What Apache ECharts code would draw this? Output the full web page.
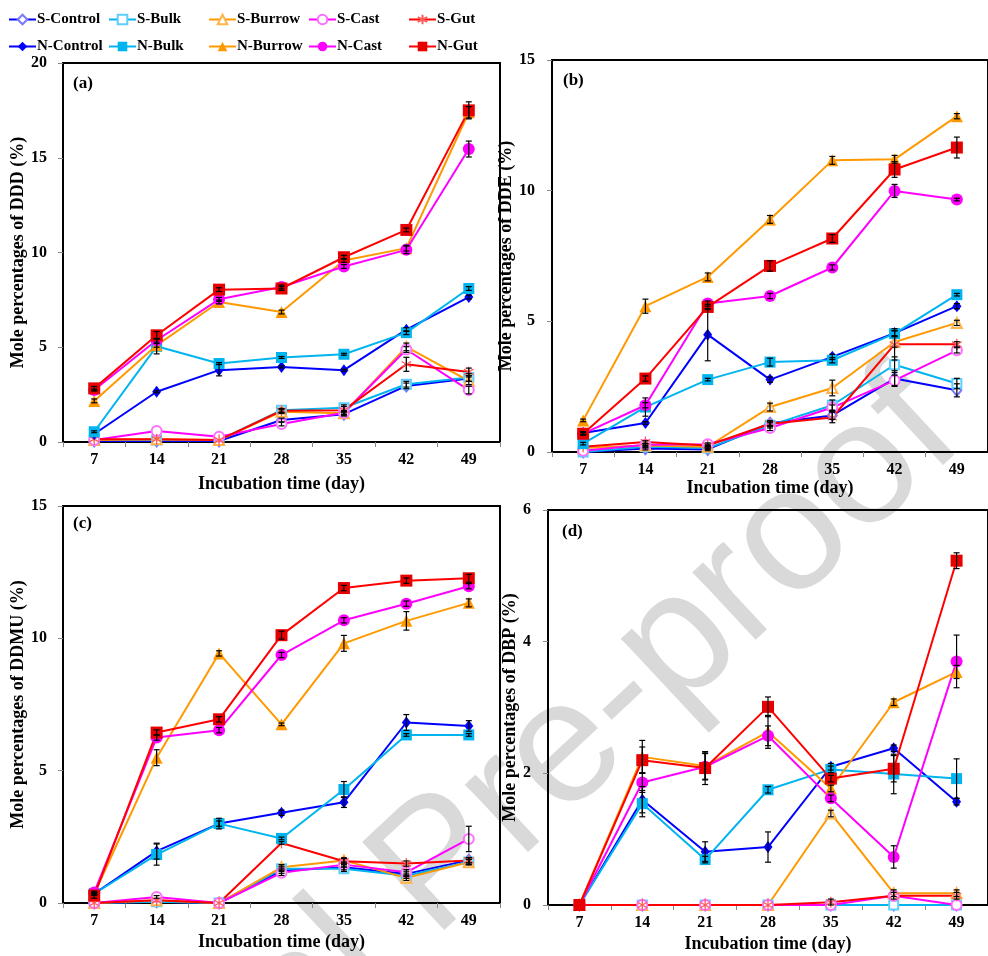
<!DOCTYPE html>
<html><head><meta charset="utf-8">
<script src="https://cdn.jsdelivr.net/npm/echarts@6/dist/echarts.min.js"></script>
<style>html,body{margin:0;padding:0;background:#fff}#chart{width:988px;height:956px}</style>
</head><body><div id="chart"></div>
<script>
// ---------- data ----------
const days = ['7', '14', '21', '28', '35', '42', '49'];
const seriesNames = ['S-Control', 'S-Bulk', 'S-Burrow', 'S-Cast', 'S-Gut',
                     'N-Control', 'N-Bulk', 'N-Burrow', 'N-Cast', 'N-Gut'];
const panelLetters = ['(a)', '(b)', '(c)', '(d)'];
const yAxisTitles = ['Mole percentages of DDD (%)', 'Mole percentages of DDE (%)',
                     'Mole percentages of DDMU (%)', 'Mole percentages of DBP (%)'];
const xAxisTitle = 'Incubation time (day)';
const yMaxes = [20, 15, 15, 6];
const ySteps = [5, 5, 5, 2];

// rows follow seriesNames order
const dddValues = [
  [0.05, 0.05, 0.05, 1.16, 1.47, 2.96, 3.35],
  [0.10, 0.10, 0.10, 1.68, 1.81, 3.05, 3.40],
  [0.10, 0.15, 0.10, 1.60, 1.52, 5.02, 3.23],
  [0.10, 0.58, 0.28, 0.95, 1.54, 4.88, 2.74],
  [0.15, 0.15, 0.10, 1.65, 1.68, 4.10, 3.70],
  [0.42, 2.65, 3.79, 3.96, 3.79, 5.93, 7.65],
  [0.54, 5.05, 4.14, 4.46, 4.63, 5.77, 8.10],
  [2.17, 5.10, 7.39, 6.86, 9.58, 10.23, 17.40],
  [2.74, 5.37, 7.53, 8.18, 9.26, 10.14, 15.46],
  [2.83, 5.63, 8.04, 8.10, 9.75, 11.19, 17.50]
];
const dddErrors = [
  [0, 0, 0, 0.10, 0.10, 0.15, 0.15],
  [0, 0, 0, 0.10, 0.15, 0.15, 0.20],
  [0, 0, 0, 0.10, 0.10, 0.20, 0.20],
  [0, 0, 0, 0.10, 0.10, 0.15, 0.20],
  [0, 0, 0, 0.10, 0.20, 0.37, 0.20],
  [0, 0.05, 0.30, 0.05, 0.05, 0.10, 0.10],
  [0.05, 0.40, 0.05, 0.05, 0.05, 0.10, 0.10],
  [0.10, 0.10, 0.10, 0.10, 0.10, 0.15, 0.30],
  [0.05, 0.10, 0.10, 0.10, 0.10, 0.20, 0.42],
  [0.10, 0.20, 0.10, 0.10, 0.10, 0.10, 0.45]
];
const ddeValues = [
  [0.00, 0.13, 0.10, 1.10, 1.40, 2.81, 2.36],
  [0.00, 0.20, 0.15, 1.02, 1.79, 3.34, 2.62],
  [0.15, 0.25, 0.20, 1.72, 2.45, 4.21, 4.94],
  [0.05, 0.28, 0.30, 0.92, 1.70, 2.74, 3.89],
  [0.20, 0.38, 0.25, 1.08, 1.32, 4.12, 4.12],
  [0.73, 1.11, 4.49, 2.77, 3.64, 4.55, 5.58],
  [0.32, 1.72, 2.77, 3.44, 3.51, 4.53, 6.02],
  [1.21, 5.58, 6.70, 8.90, 11.16, 11.20, 12.85],
  [0.70, 1.79, 5.68, 5.97, 7.06, 9.99, 9.66],
  [0.70, 2.81, 5.55, 7.12, 8.17, 10.81, 11.65]
];
const ddeErrors = [
  [0, 0.05, 0.05, 0.10, 0.15, 0.30, 0.25],
  [0, 0.05, 0.05, 0.10, 0.20, 0.30, 0.20],
  [0, 0.05, 0.05, 0.15, 0.30, 0.20, 0.10],
  [0, 0.05, 0.05, 0.10, 0.10, 0.20, 0.10],
  [0, 0.05, 0.05, 0.10, 0.20, 0.60, 0.10],
  [0.05, 0.05, 1.00, 0.10, 0.10, 0.10, 0.10],
  [0.05, 0.35, 0.05, 0.15, 0.10, 0.10, 0.05],
  [0.05, 0.27, 0.15, 0.15, 0.15, 0.15, 0.10],
  [0.05, 0.10, 0.10, 0.10, 0.10, 0.25, 0.05],
  [0.05, 0.10, 0.10, 0.20, 0.15, 0.30, 0.40]
];
const ddmuValues = [
  [0.00, 0.05, 0.00, 1.22, 1.35, 1.10, 1.62],
  [0.00, 0.05, 0.00, 1.29, 1.29, 1.03, 1.55],
  [0.00, 0.10, 0.00, 1.35, 1.61, 0.95, 1.54],
  [0.00, 0.23, 0.00, 1.14, 1.45, 1.16, 2.42],
  [0.00, 0.10, 0.00, 2.27, 1.58, 1.49, 1.61],
  [0.35, 1.96, 3.00, 3.41, 3.81, 6.82, 6.69],
  [0.35, 1.83, 3.00, 2.44, 4.29, 6.35, 6.35],
  [0.35, 5.49, 9.43, 6.75, 9.81, 10.66, 11.34],
  [0.40, 6.25, 6.53, 9.37, 10.68, 11.31, 11.97],
  [0.28, 6.44, 6.94, 10.12, 11.90, 12.18, 12.27]
];
const ddmuErrors = [
  [0, 0, 0, 0.10, 0.10, 0.10, 0.10],
  [0, 0, 0, 0.10, 0.10, 0.10, 0.10],
  [0, 0, 0, 0.10, 0.10, 0.10, 0.10],
  [0, 0.05, 0, 0.10, 0.10, 0.10, 0.48],
  [0, 0, 0, 0.05, 0.10, 0.10, 0.10],
  [0.05, 0.30, 0.20, 0.10, 0.20, 0.30, 0.20],
  [0.05, 0.40, 0.10, 0.05, 0.30, 0.05, 0.05],
  [0.05, 0.30, 0.10, 0.05, 0.30, 0.35, 0.15],
  [0.05, 0.10, 0.10, 0.10, 0.10, 0.10, 0.10],
  [0.10, 0.10, 0.10, 0.15, 0.10, 0.10, 0.15]
];
const dbpValues = [
  [0, 0, 0, 0, 0, 0, 0],
  [0, 0, 0, 0, 0, 0, 0],
  [0, 0, 0, 0, 1.39, 0.18, 0.18],
  [0, 0, 0, 0, 0, 0.14, 0],
  [0, 0, 0, 0, 0.04, 0.14, 0.14],
  [0, 1.60, 0.81, 0.88, 2.10, 2.38, 1.57],
  [0, 1.54, 0.69, 1.75, 2.06, 1.99, 1.92],
  [0, 2.25, 2.11, 2.63, 1.77, 3.08, 3.54],
  [0, 1.86, 2.10, 2.57, 1.62, 0.73, 3.70],
  [0, 2.20, 2.08, 3.01, 1.92, 2.07, 5.23]
];
const dbpErrors = [
  [0, 0, 0, 0, 0, 0, 0],
  [0, 0, 0, 0, 0, 0, 0],
  [0, 0, 0, 0, 0.05, 0.05, 0.05],
  [0, 0, 0, 0, 0, 0, 0],
  [0, 0, 0, 0, 0.05, 0.05, 0.05],
  [0, 0.20, 0.15, 0.23, 0.05, 0.05, 0.05],
  [0, 0.20, 0.05, 0.05, 0.05, 0.30, 0.30],
  [0, 0.25, 0.20, 0.25, 0.05, 0.05, 0.10],
  [0, 0.15, 0.20, 0.15, 0.05, 0.17, 0.40],
  [0, 0.20, 0.25, 0.15, 0.05, 0.20, 0.12]
];
const panelValues = [dddValues, ddeValues, ddmuValues, dbpValues];
const panelErrors = [dddErrors, ddeErrors, ddmuErrors, dbpErrors];

// ---------- styles ----------
const FONT = 'Liberation Serif';
const STAR = 'path://M0,-10L0,10M-8.66,-5L8.66,5M-8.66,5L8.66,-5';
const seriesStyles = [
  {line: '#0000FF', mark: '#7878FF', symbol: 'emptyDiamond', size: [9, 11], empty: true},
  {line: '#00B4F0', mark: '#5CCFFF', symbol: 'emptyRect', size: 9, empty: true},
  {line: '#FF9900', mark: '#FFB54A', symbol: 'emptyTriangle', size: 10, empty: true},
  {line: '#FF00FF', mark: '#FF6EFF', symbol: 'emptyCircle', size: 10, empty: true},
  {line: '#FF0000', mark: '#FF5A5A', symbol: STAR, size: 11, star: true},
  {line: '#0000FF', mark: '#0000FF', symbol: 'diamond', size: [9, 12]},
  {line: '#00B4F0', mark: '#00B4F0', symbol: 'rect', size: 11},
  {line: '#FF9900', mark: '#FF9900', symbol: 'triangle', size: 12},
  {line: '#FF00FF', mark: '#FF00FF', symbol: 'circle', size: 12},
  {line: '#FF0000', mark: '#E80000', symbol: 'rect', size: 12}
];
const gridBoxes = [
  {left: 63, top: 63, width: 437, height: 379},
  {left: 552, top: 60, width: 448, height: 392},
  {left: 63, top: 506, width: 437, height: 397},
  {left: 548, top: 510, width: 451, height: 395}
];
const xNameGaps = [33, 24, 30, 30];
const yNameGaps = [30, 25, 30, 21];
const yLabelMargins = [16, 17, 16, 17];
const letterPos = [[73, 84], [563, 81], [73, 524], [562, 532]];

const boldText = {fontFamily: FONT, fontWeight: 'bold', color: '#000'};

function renderErrorBar(params, api) {
  const i = api.value(0), v = api.value(1), e = api.value(2);
  const hi = api.coord([i, v + e]);
  const lo = api.coord([i, Math.max(0, v - e)]);
  const cap = 3;
  const st = {stroke: '#000', lineWidth: 1.2};
  return {type: 'group', children: [
    {type: 'line', shape: {x1: hi[0], y1: hi[1], x2: lo[0], y2: lo[1]}, style: st},
    {type: 'line', shape: {x1: hi[0] - cap, y1: hi[1], x2: hi[0] + cap, y2: hi[1]}, style: st},
    {type: 'line', shape: {x1: lo[0] - cap, y1: lo[1], x2: lo[0] + cap, y2: lo[1]}, style: st}
  ]};
}

const grids = [], xAxes = [], yAxes = [], series = [], graphics = [];
gridBoxes.forEach((g, p) => {
  grids.push(Object.assign({show: true, borderColor: '#000', borderWidth: 2, containLabel: false}, g));
  xAxes.push({
    type: 'category', gridIndex: p, data: days, boundaryGap: true,
    axisLine: {lineStyle: {color: '#000', width: 2}},
    axisTick: {show: true, length: 5, alignWithLabel: false, lineStyle: {color: '#888'}},
    axisLabel: Object.assign({fontSize: 16, margin: 10}, boldText),
    name: xAxisTitle, nameLocation: 'middle', nameGap: xNameGaps[p],
    nameTextStyle: Object.assign({fontSize: 18}, boldText),
    splitLine: {show: false}
  });
  yAxes.push({
    type: 'value', gridIndex: p, min: 0, max: yMaxes[p], interval: ySteps[p],
    axisLine: {show: true, lineStyle: {color: '#000', width: 2}},
    axisTick: {show: true, length: 5, lineStyle: {color: '#888'}},
    axisLabel: Object.assign({fontSize: 16, margin: yLabelMargins[p]}, boldText),
    name: yAxisTitles[p], nameLocation: 'middle', nameGap: yNameGaps[p], nameRotate: 90,
    nameTextStyle: Object.assign({fontSize: 18}, boldText),
    splitLine: {show: false}
  });
  const vals = panelValues[p], errs = panelErrors[p];
  seriesNames.forEach((name, s) => {
    const st = seriesStyles[s];
    const item = st.star
      ? {color: st.mark, borderColor: st.mark, borderWidth: 1.3}
      : st.empty ? {color: st.mark, borderWidth: 1.3} : {color: st.mark, borderWidth: 0};
    series.push({
      type: 'line', name: name, xAxisIndex: p, yAxisIndex: p,
      data: vals[s], symbol: st.symbol, symbolSize: st.size, symbolKeepAspect: true,
      showAllSymbol: true,
      lineStyle: {color: st.line, width: 2},
      itemStyle: item,
      emphasis: {disabled: true},
      animation: false
    });
  });
  const errData = [];
  seriesNames.forEach((name, s) => {
    vals[s].forEach((v, i) => { if (errs[s][i] > 0) errData.push([i, v, errs[s][i]]); });
  });
  series.push({
    type: 'custom', name: 'error-' + p, xAxisIndex: p, yAxisIndex: p,
    renderItem: renderErrorBar, data: errData, encode: {x: 0, y: 1},
    z: 10, silent: true, animation: false
  });
  graphics.push({
    type: 'text', x: letterPos[p][0], y: letterPos[p][1], z: 20,
    style: {text: panelLetters[p], font: 'bold 17px "Liberation Serif"', fill: '#000', verticalAlign: 'middle'}
  });
});

// watermark
graphics.unshift({
  type: 'text', x: 440, y: 868, rotation: 43 * Math.PI / 180, z: -10, silent: true,
  style: {text: 'Journal Pre-proof', font: '175px "Liberation Sans"', fill: '#d9d9d9',
          align: 'center', verticalAlign: 'middle'}
});

const legends = [0, 1, 2, 3, 4].map(c => ({
  data: [seriesNames[c], seriesNames[c + 5]],
  orient: 'vertical', left: 8 + 100 * c, top: 12, padding: 0,
  itemWidth: 27, itemHeight: 12, itemGap: 12, selectedMode: false,
  textStyle: Object.assign({fontSize: 15, padding: [0, 0, 0, -4]}, boldText)
}));

const chart = echarts.init(document.getElementById('chart'), null, {renderer: 'canvas'});
chart.setOption({
  backgroundColor: '#fff',
  animation: false,
  legend: legends,
  grid: grids, xAxis: xAxes, yAxis: yAxes,
  series: series,
  graphic: graphics
});
</script></body></html>
